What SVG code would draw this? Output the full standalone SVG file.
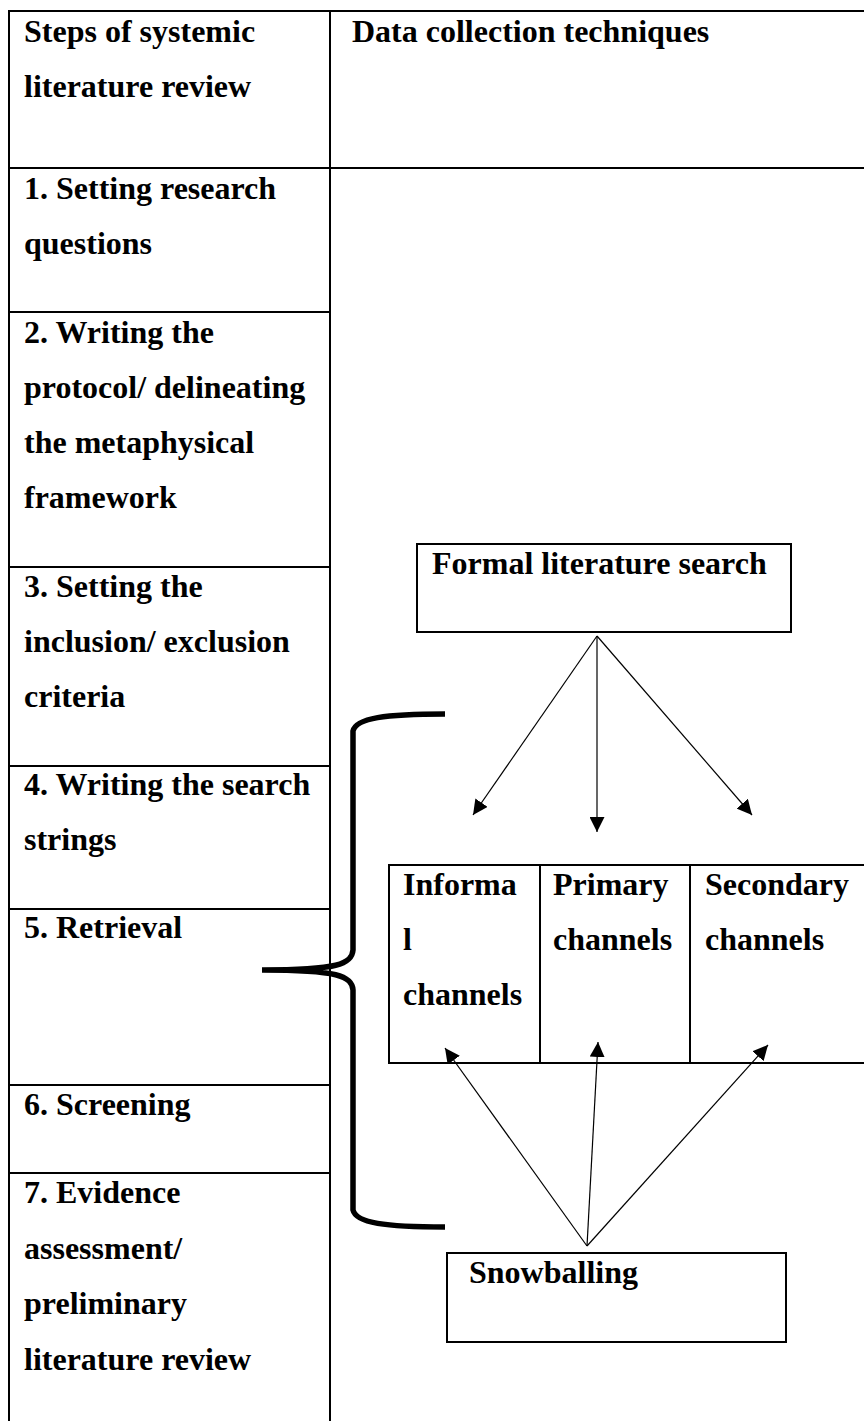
<svg xmlns="http://www.w3.org/2000/svg" width="864" height="1421" viewBox="0 0 864 1421">
<style>
  text { font-family: "Liberation Serif", "Times New Roman", serif; font-weight: bold; font-size: 32px; fill: #000; }
  .tbl { stroke: #000; stroke-width: 2; fill: none; }
  .box { stroke: #000; stroke-width: 2; fill: #fff; }
  .arr { stroke: #000; stroke-width: 1.2; fill: none; marker-end: url(#ah); }
  .brace { stroke: #000; stroke-width: 5.5; fill: none; }
</style>
<defs>
  <marker id="ah" viewBox="0 0 15 15" refX="15" refY="7.5" markerWidth="15" markerHeight="15" orient="auto" markerUnits="userSpaceOnUse">
    <path d="M0,0 L15,7.5 L0,15 z" fill="#000"/>
  </marker>
</defs>
<rect width="864" height="1421" fill="#fff"/>

<g id="table">
  <line class="tbl" x1="9" y1="11" x2="864" y2="11"/>
  <line class="tbl" x1="9" y1="10" x2="9" y2="1421"/>
  <line class="tbl" x1="330" y1="10" x2="330" y2="1421"/>
  <line class="tbl" x1="9" y1="168" x2="864" y2="168"/>
  <line class="tbl" x1="9" y1="312" x2="330" y2="312"/>
  <line class="tbl" x1="9" y1="567" x2="330" y2="567"/>
  <line class="tbl" x1="9" y1="766" x2="330" y2="766"/>
  <line class="tbl" x1="9" y1="909" x2="330" y2="909"/>
  <line class="tbl" x1="9" y1="1085" x2="330" y2="1085"/>
  <line class="tbl" x1="9" y1="1173" x2="330" y2="1173"/>
</g>

<g id="header-steps"><text x="24" y="42">Steps of systemic</text><text x="24" y="97">literature review</text></g>
<g id="header-data"><text x="352" y="42">Data collection techniques</text></g>
<g id="step1"><text x="24" y="199">1. Setting research</text><text x="24" y="254">questions</text></g>
<g id="step2"><text x="24" y="343">2. Writing the</text><text x="24" y="398">protocol/ delineating</text><text x="24" y="453">the metaphysical</text><text x="24" y="508">framework</text></g>
<g id="step3"><text x="24" y="597">3. Setting the</text><text x="24" y="652">inclusion/ exclusion</text><text x="24" y="707">criteria</text></g>
<g id="step4"><text x="24" y="795">4. Writing the search</text><text x="24" y="850">strings</text></g>
<g id="step5"><text x="24" y="938">5. Retrieval</text></g>
<g id="step6"><text x="24" y="1115">6. Screening</text></g>
<g id="step7"><text x="24" y="1203">7. Evidence</text><text x="24" y="1259">assessment/</text><text x="24" y="1314">preliminary</text><text x="24" y="1370">literature review</text></g>

<g id="brace">
  <path class="brace" d="M445,714 C385,714 356,718 353,731 L353,950 C352,964 338,970 262,970 C338,970 352,976 353,990 L353,1210 C356,1223 385,1227 445,1227"/>
</g>

<g id="formal">
  <rect class="box" x="417" y="544" width="374" height="88"/>
  <text x="432" y="574">Formal literature search</text>
</g>

<g id="channels">
  <line class="tbl" x1="389" y1="865" x2="864" y2="865"/>
  <line class="tbl" x1="389" y1="1063" x2="864" y2="1063"/>
  <line class="tbl" x1="389" y1="864" x2="389" y2="1064"/>
  <line class="tbl" x1="540" y1="864" x2="540" y2="1064"/>
  <line class="tbl" x1="690" y1="864" x2="690" y2="1064"/>
</g>
<g id="informal"><text x="403" y="895">Informa</text><text x="403" y="950">l</text><text x="403" y="1005">channels</text></g>
<g id="primary"><text x="553" y="895">Primary</text><text x="553" y="950">channels</text></g>
<g id="secondary"><text x="705" y="895">Secondary</text><text x="705" y="950">channels</text></g>

<g id="snowballing">
  <rect class="box" x="447" y="1253" width="339" height="89"/>
  <text x="469" y="1283">Snowballing</text>
</g>

<g id="connectors">
  <line class="arr" x1="597" y1="636" x2="473" y2="815"/>
  <line class="arr" x1="597" y1="636" x2="597" y2="832"/>
  <line class="arr" x1="597" y1="636" x2="752" y2="815"/>
  <line class="arr" x1="587" y1="1246" x2="445" y2="1048"/>
  <line class="arr" x1="587" y1="1246" x2="598" y2="1042"/>
  <line class="arr" x1="587" y1="1246" x2="768" y2="1045"/>
</g>
</svg>
